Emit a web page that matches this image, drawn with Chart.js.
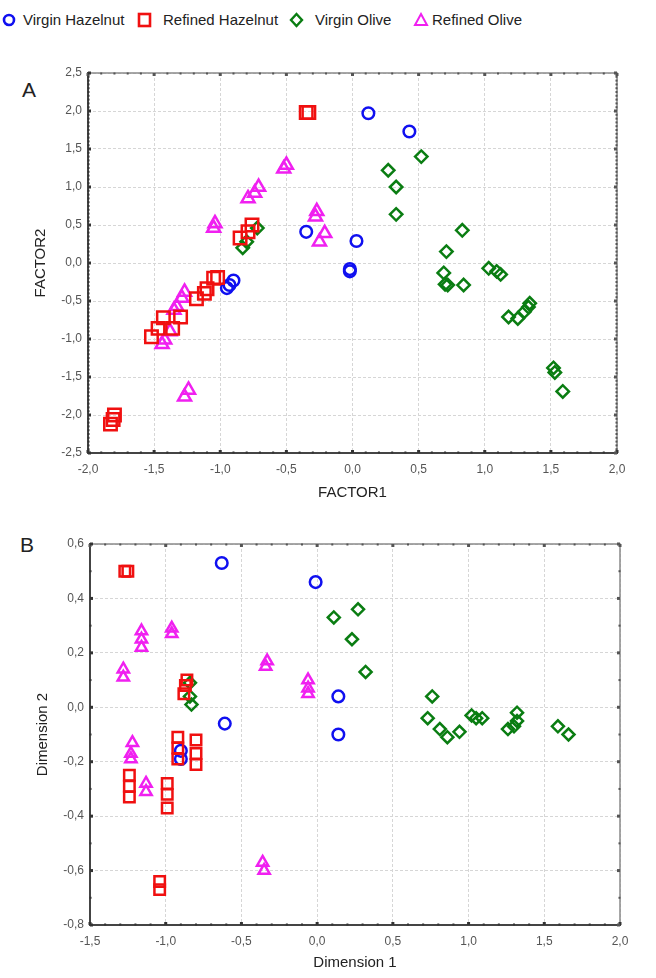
<!DOCTYPE html>
<html><head><meta charset="utf-8">
<script src="https://cdn.jsdelivr.net/npm/chart.js@4"></script>
<style>
body{margin:0;width:656px;height:978px;background:#fff;position:relative;overflow:hidden;font-family:"Liberation Sans",Arial,sans-serif;color:#222}
.lg{position:absolute;top:11px;font-size:15px;line-height:18px;white-space:nowrap}
.mk{position:absolute;top:12px}
.letter{position:absolute;font-size:21px;line-height:22px}
.cv{position:absolute;left:0}
</style></head><body>
<svg class="mk" style="left:2px" width="14" height="16"><circle cx="7" cy="8" r="5" fill="none" stroke="#1010f0" stroke-width="2.6"/></svg>
<div class="lg" style="left:23px">Virgin Hazelnut</div>
<svg class="mk" style="left:137px" width="16" height="16"><rect x="2" y="2" width="11" height="12" fill="none" stroke="#f01010" stroke-width="2.6"/></svg>
<div class="lg" style="left:163px">Refined Hazelnut</div>
<svg class="mk" style="left:289px" width="16" height="16"><path d="M7.5 2 L13 8 L7.5 14 L2 8 Z" fill="none" stroke="#0a7d12" stroke-width="2.4"/></svg>
<div class="lg" style="left:315px">Virgin Olive</div>
<svg class="mk" style="left:413px" width="16" height="16"><path d="M8 2 L14 13 L2 13 Z" fill="none" stroke="#f020f0" stroke-width="2"/></svg>
<div class="lg" style="left:432px">Refined Olive</div>

<div class="letter" style="left:22px;top:79px">A</div>
<div class="letter" style="left:20px;top:534px">B</div>

<canvas id="ca" class="cv" style="top:40px" width="656" height="470"></canvas>
<canvas id="cb" class="cv" style="top:510px" width="656" height="468"></canvas>

<script>
// ---------- Panel A data (FACTOR1, FACTOR2) ----------
const aVirginHazelnut = [[0.12,1.97],[0.43,1.73],[-0.35,0.41],[0.03,0.29],[-0.02,-0.08],[-0.02,-0.11],[-0.95,-0.33],[-0.93,-0.29],[-0.90,-0.23]];
const aRefinedHazelnut = [[-0.35,1.98],[-0.33,1.98],[-0.76,0.50],[-0.79,0.41],[-0.85,0.33],[-1.05,-0.20],[-1.02,-0.19],[-1.10,-0.34],[-1.12,-0.40],[-1.18,-0.47],[-1.30,-0.71],[-1.36,-0.86],[-1.43,-0.72],[-1.47,-0.86],[-1.52,-0.97],[-1.83,-2.12],[-1.81,-2.06],[-1.80,-2.00]];
const aVirginOlive = [[-0.72,0.46],[-0.80,0.28],[-0.83,0.20],[0.52,1.40],[0.27,1.22],[0.33,1.00],[0.33,0.64],[0.83,0.43],[0.71,0.15],[0.69,-0.13],[0.70,-0.28],[0.72,-0.29],[0.84,-0.29],[1.03,-0.07],[1.09,-0.11],[1.12,-0.15],[1.18,-0.71],[1.25,-0.73],[1.30,-0.64],[1.33,-0.58],[1.34,-0.53],[1.52,-1.38],[1.53,-1.44],[1.59,-1.69]];
const aRefinedOlive = [[-0.52,1.24],[-0.50,1.29],[-0.71,1.00],[-0.74,0.92],[-0.79,0.85],[-1.04,0.52],[-1.05,0.46],[-0.27,0.68],[-0.28,0.61],[-0.21,0.39],[-0.25,0.28],[-1.27,-0.38],[-1.29,-0.46],[-1.33,-0.57],[-1.35,-0.62],[-1.38,-0.90],[-1.42,-1.01],[-1.44,-1.07],[-1.24,-1.67],[-1.27,-1.76]];

// ---------- Panel B data (Dimension 1, Dimension 2) ----------
const bVirginHazelnut = [[-0.63,0.53],[-0.01,0.46],[-0.61,-0.06],[0.14,0.04],[0.14,-0.10],[-0.90,-0.16],[-0.90,-0.19]];
const bRefinedHazelnut = [[-1.27,0.50],[-1.25,0.50],[-0.86,0.10],[-0.87,0.08],[-0.88,0.05],[-0.92,-0.11],[-0.92,-0.15],[-0.92,-0.19],[-0.80,-0.12],[-0.80,-0.17],[-0.80,-0.21],[-1.24,-0.25],[-1.24,-0.29],[-1.24,-0.33],[-0.99,-0.28],[-0.99,-0.32],[-0.99,-0.37],[-1.04,-0.64],[-1.04,-0.67]];
const bVirginOlive = [[-0.84,0.09],[-0.84,0.04],[-0.83,0.01],[0.11,0.33],[0.27,0.36],[0.23,0.25],[0.32,0.13],[0.76,0.04],[0.73,-0.04],[0.81,-0.08],[0.86,-0.11],[0.94,-0.09],[1.02,-0.03],[1.05,-0.04],[1.09,-0.04],[1.26,-0.08],[1.32,-0.02],[1.32,-0.05],[1.30,-0.07],[1.59,-0.07],[1.66,-0.10]];
const bRefinedOlive = [[-1.16,0.28],[-1.16,0.25],[-1.16,0.22],[-0.96,0.29],[-0.96,0.27],[-1.28,0.14],[-1.28,0.11],[-0.33,0.17],[-0.34,0.15],[-0.06,0.10],[-0.06,0.07],[-0.06,0.05],[-1.22,-0.13],[-1.23,-0.17],[-1.23,-0.19],[-1.13,-0.28],[-1.13,-0.31],[-0.36,-0.57],[-0.35,-0.60]];

// axis ranges / titles
const aXRange = [-2, 2, 0.5, 0.1];      // min, max, major, minor
const aYRange = [-2.5, 2.5, 0.5, 0.05];
const bXRange = [-1.5, 2, 0.5, 0.1];
const bYRange = [-0.8, 0.6, 0.2, 0.1];
const aTitles = ['FACTOR1','FACTOR2'];
const bTitles = ['Dimension 1','Dimension 2'];

const seriesNames = ['Virgin Hazelnut','Refined Hazelnut','Virgin Olive','Refined Olive'];
const colors = ['#1010f0','#f01010','#0a7d12','#f020f0'];
const styles = ['circle','rect','rectRot','triangle'];

Chart.defaults.font.family = '"Liberation Sans", Arial, sans-serif';

const framePlugin = {
  id: 'frame',
  beforeDatasetsDraw(chart, args, o) {
    const {ctx, chartArea: {left, right, top, bottom}, scales: {x, y}} = chart;
    ctx.save();
    ctx.lineCap = 'square';
    ctx.strokeStyle = '#8a8a8a'; ctx.lineWidth = 1.5;
    ctx.beginPath(); ctx.moveTo(left, top); ctx.lineTo(right, top); ctx.lineTo(right, bottom); ctx.stroke();
    ctx.strokeStyle = '#444'; ctx.lineWidth = 2;
    ctx.beginPath(); ctx.moveTo(left, top); ctx.lineTo(left, bottom); ctx.lineTo(right, bottom); ctx.stroke();
    const dot = (px, py, s, c) => { ctx.fillStyle = c; ctx.fillRect(px - s/2, py - s/2, s, s); };
    const doAxis = (sc, r, horiz) => {
      const n = Math.round((r[1] - r[0]) / r[3]);
      for (let i = 0; i <= n; i++) {
        const v = r[0] + i * r[3];
        const q = v / r[2];
        const major = Math.abs(q - Math.round(q)) < 1e-6;
        const p = sc.getPixelForValue(v);
        const s = major ? 3 : 2;
        if (horiz) { dot(p, bottom - (major?1.5:0.5), s, '#333'); dot(p, top + (major?1.5:0.5), s, '#555'); }
        else { dot(left + (major?1.5:0.5), p, s, '#333'); dot(right - (major?1.5:0.5), p, s, '#555'); }
      }
    };
    doAxis(x, o.xr, true);
    doAxis(y, o.yr, false);
    ctx.restore();
  }
};

const fmt = v => (Math.abs(v) < 1e-9 ? 0 : v).toFixed(1).replace('.', ',');

function makeChart(id, sets, xr, yr, titles, pad, yW, xH, titlePadX, titlePadY, pr) {
  const datasets = sets.map((d, i) => ({
    label: seriesNames[i],
    data: d.map(p => ({x: p[0], y: p[1]})),
    pointStyle: styles[i],
    pointRadius: pr[i],
    pointHoverRadius: pr[i],
    pointBorderWidth: 2.5,
    borderColor: colors[i],
    backgroundColor: 'rgba(0,0,0,0)',
    order: [4, 1, 3, 2][i]
  }));
  return new Chart(document.getElementById(id), {
    type: 'scatter',
    data: {datasets},
    plugins: [framePlugin],
    options: {
      responsive: false,
      animation: false,
      events: [],
      layout: {padding: pad},
      plugins: {legend: {display: false}, tooltip: {enabled: false}, frame: {xr, yr}},
      scales: {
        x: {
          type: 'linear', min: xr[0], max: xr[1],
          afterFit: s => { s.height = xH; },
          ticks: {stepSize: xr[2], autoSkip: false, maxRotation: 0, padding: 9, color: '#555', font: {size: 12}, callback: fmt},
          grid: {color: '#d6d6d6', lineWidth: 1, drawTicks: false},
          border: {display: false, dash: [3, 2]},
          title: {display: true, text: titles[0], color: '#222', font: {size: 15}, padding: {top: 0, bottom: titlePadX}}
        },
        y: {
          type: 'linear', min: yr[0], max: yr[1],
          afterFit: s => { s.width = yW; },
          ticks: {stepSize: yr[2], autoSkip: false, padding: 6, color: '#555', font: {size: 12}, callback: fmt},
          grid: {color: '#d6d6d6', lineWidth: 1, drawTicks: false},
          border: {display: false, dash: [3, 2]},
          title: {display: true, text: titles[1], color: '#222', font: {size: 15}, padding: {top: titlePadY, bottom: 0}}
        }
      }
    }
  });
}

makeChart('ca', [aVirginHazelnut, aRefinedHazelnut, aVirginOlive, aRefinedOlive],
  aXRange, aYRange, aTitles,
  {left: 24, top: 33, right: 39, bottom: 0}, 64, 57, 8, 8, [5.8, 8.8, 6.2, 7.5]);

makeChart('cb', [bVirginHazelnut, bRefinedHazelnut, bVirginOlive, bRefinedOlive],
  bXRange, bYRange, bTitles,
  {left: 26, top: 34, right: 36, bottom: 0}, 64, 53, 6, 8, [5.8, 7.4, 6, 6.5]);
</script>
</body></html>
